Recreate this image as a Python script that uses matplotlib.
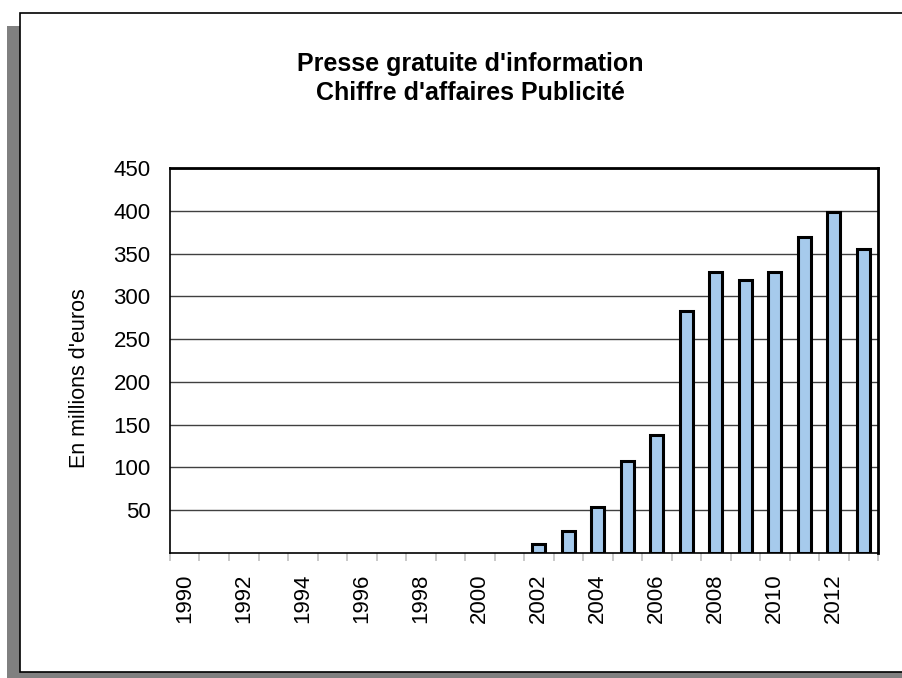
import matplotlib

matplotlib.use("Agg")
import matplotlib.pyplot as plt
from matplotlib.patches import Rectangle
from matplotlib.ticker import FixedLocator, NullFormatter
import numpy as np

plt.rcParams["font.family"] = ["Liberation Sans", "DejaVu Sans"]

# --- data ---
years = list(range(1990, 2014))
revenue = [0, 0, 0, 0, 0, 0, 0, 0, 0, 0, 0, 0,
           10, 26, 54, 108, 138, 283, 329, 319, 328, 369, 399, 355]
yticks = [50, 100, 150, 200, 250, 300, 350, 400, 450]
title = "Presse gratuite d'information\nChiffre d'affaires Publicité"
ylabel = "En millions d'euros"

W, H = 903, 678
fig = plt.figure(figsize=(W / 100, H / 100), dpi=100)


def px(x0, y0, x1, y1):
    # pixel box (top-left origin) -> figure fraction rect
    return [x0 / W, 1 - y1 / H, (x1 - x0) / W, (y1 - y0) / H]


# chart frame with drop shadow
fig.patches.append(Rectangle((7 / W, 0), 1, 1 - 26 / H, transform=fig.transFigure,
                             facecolor="#808080", edgecolor="none", zorder=0))
fig.patches.append(Rectangle((20 / W, 1 - 672 / H), 1, (672 - 13) / H,
                             transform=fig.transFigure, facecolor="white",
                             edgecolor="black", linewidth=1.2, zorder=1))

ax = fig.add_axes(px(170, 168, 878, 553))
ax.set_zorder(2)
x = np.arange(len(years))
vals = np.array(revenue, dtype=float)
shown = vals > 0  # zero years leave no mark
ax.bar(x[shown], vals[shown], width=0.45, color="#A6CAEC", edgecolor="black",
       linewidth=2.2, zorder=3)

ax.set_xlim(-0.5, len(years) - 0.5)
ax.set_ylim(0, 450)
ax.set_yticks(yticks)
ax.tick_params(axis="y", length=0, labelsize=16, pad=14)
ax.yaxis.grid(True, color="#404040", linewidth=1.0, zorder=1)
ax.set_axisbelow(True)

# category boundary ticks, labels every other year
ax.xaxis.set_major_locator(FixedLocator(np.arange(-0.5, len(years), 1)))
ax.xaxis.set_major_formatter(NullFormatter())
ax.tick_params(axis="x", which="major", length=6, color="#c0c0c0", width=1.2)
ax.set_xticks(x[::2], minor=True)
ax.set_xticklabels([str(y) for y in years[::2]], minor=True, rotation=90, fontsize=16)
ax.tick_params(axis="x", which="minor", length=0, pad=15)

for s in ax.spines.values():
    s.set_linewidth(2.0)
    s.set_color("black")
ax.spines["left"].set_linewidth(1.2)
ax.spines["bottom"].set_linewidth(1.2)

ax.set_ylabel(ylabel, fontsize=15.5)
ax.yaxis.set_label_coords(-0.1285, 0.455)
ax.yaxis.label.set_va("center")

fig.text(470 / W, 1 - 78.5 / H, title, ha="center", va="center",
         fontsize=18, fontweight="bold", linespacing=1.3)

fig.savefig("out.png", dpi=100)
